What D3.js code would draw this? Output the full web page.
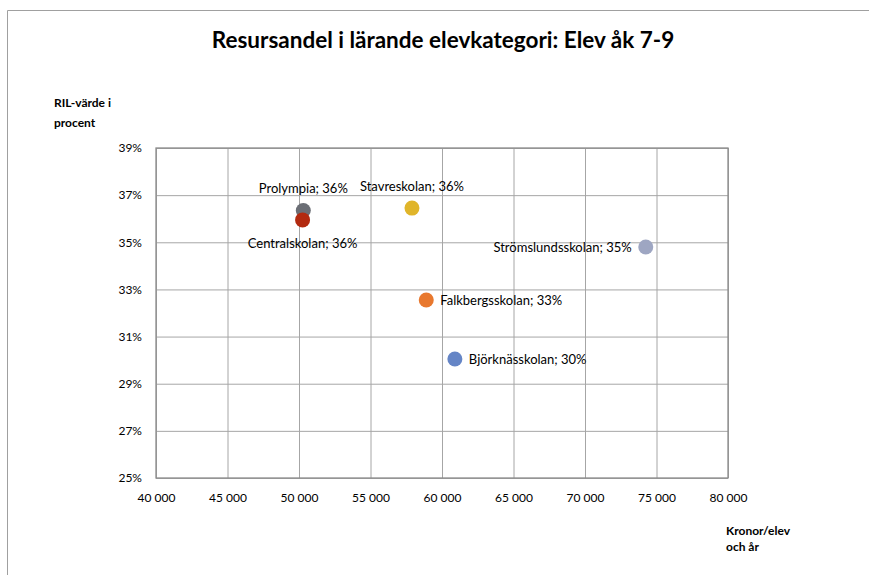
<!DOCTYPE html>
<html>
<head>
<meta charset="utf-8">
<script src="https://cdn.jsdelivr.net/npm/d3@7"></script>
<style>
  body { margin: 0; background: #fff; }
  svg text { font-family: Lato, "Open Sans", sans-serif; fill: #000; }
</style>
</head>
<body>
<div id="chart"></div>
<script>
// Data
var schools = ["Prolympia", "Centralskolan", "Stavreskolan", "Strömslundsskolan", "Falkbergsskolan", "Björknässkolan"];
var kronor = [50300, 50250, 57900, 74250, 58900, 60900];
var ril = [36.35, 35.95, 36.45, 34.8, 32.55, 30.05];
var colors = ["#6b6e75", "#b22a10", "#e0b52a", "#9ea6c2", "#e8782e", "#6585c6"];
var labelSide = ["top", "bottom", "top", "left", "right", "right"];
var xTicks = [40000, 45000, 50000, 55000, 60000, 65000, 70000, 75000, 80000];
var yTicks = [25, 27, 29, 31, 33, 35, 37, 39];

var W = 869, H = 575;
var margin = { top: 148, right: 141, bottom: 97, left: 156 };
var width = W - margin.left - margin.right;
var height = H - margin.top - margin.bottom;

var svg = d3.select("#chart").append("svg")
    .attr("width", W)
    .attr("height", H);

// outer frame of the chart object (only top and left visible)
svg.append("path")
    .attr("d", "M7.5," + H + " V10.5 H" + W)
    .attr("fill", "none")
    .attr("stroke", "#a0a0a0")
    .attr("stroke-width", 1);

svg.append("text")
    .attr("x", 443)
    .attr("y", 48)
    .attr("text-anchor", "middle")
    .style("font-size", "22.5px")
    .style("font-weight", "bold")
    .text("Resursandel i lärande elevkategori: Elev åk 7-9");

var g = svg.append("g")
    .attr("transform", "translate(" + margin.left + "," + margin.top + ")");

var x = d3.scaleLinear().domain([40000, 80000]).range([0, width]);
var y = d3.scaleLinear().domain([25, 39]).range([height, 0]);

// gridlines via axes
g.append("g")
    .attr("class", "grid")
    .call(d3.axisBottom(x).tickValues(xTicks).tickSize(height).tickFormat(""))
    .call(function (s) { s.select(".domain").remove(); })
    .selectAll("line").attr("stroke", "#a6a6a6");

g.append("g")
    .attr("class", "grid")
    .call(d3.axisLeft(y).tickValues(yTicks).tickSize(-width).tickFormat(""))
    .call(function (s) { s.select(".domain").remove(); })
    .selectAll("line").attr("stroke", "#a6a6a6");

g.append("rect")
    .attr("x", 0).attr("y", 0)
    .attr("width", width).attr("height", height)
    .attr("fill", "none")
    .attr("stroke", "#8c8c8c")
    .attr("stroke-width", 1.3);

// tick labels
var fmtX = function (d) { return d3.format(",")(d).replace(",", " "); };
var xAxis = g.append("g")
    .attr("transform", "translate(0," + height + ")")
    .call(d3.axisBottom(x).tickValues(xTicks).tickSize(0).tickPadding(15).tickFormat(fmtX));
xAxis.select(".domain").remove();
xAxis.selectAll("text").style("font-size", "12px").style("font-family", "Lato, sans-serif");

var yAxis = g.append("g")
    .call(d3.axisLeft(y).tickValues(yTicks).tickSize(0).tickPadding(14).tickFormat(function (d) { return d + "%"; }));
yAxis.select(".domain").remove();
yAxis.selectAll("text").style("font-size", "12px").style("font-family", "Lato, sans-serif");

// axis titles
var yTitle = svg.append("text")
    .attr("x", 54)
    .attr("y", 107)
    .style("font-size", "12px")
    .style("font-weight", "bold");
yTitle.append("tspan").attr("x", 54).text("RIL-värde i");
yTitle.append("tspan").attr("x", 54).attr("dy", 20).text("procent");

var xTitle = svg.append("text")
    .attr("x", 726)
    .attr("y", 535)
    .style("font-size", "12px")
    .style("font-weight", "bold");
xTitle.append("tspan").attr("x", 726).text("Kronor/elev");
xTitle.append("tspan").attr("x", 726).attr("dy", 16).text("och år");

// points
var idx = d3.range(schools.length);
g.selectAll("circle.pt")
    .data(idx)
    .enter().append("circle")
    .attr("class", "pt")
    .attr("cx", function (i) { return x(kronor[i]); })
    .attr("cy", function (i) { return y(ril[i]); })
    .attr("r", 7.5)
    .attr("fill", function (i) { return colors[i]; });

// labels
g.selectAll("text.lbl")
    .data(idx)
    .enter().append("text")
    .attr("class", "lbl")
    .style("font-size", "13px")
    .attr("x", function (i) {
        var cx = x(kronor[i]);
        if (labelSide[i] === "left") return cx - 14;
        if (labelSide[i] === "right") return cx + 14;
        return cx;
    })
    .attr("y", function (i) {
        var cy = y(ril[i]);
        if (labelSide[i] === "top") return cy - 17;
        if (labelSide[i] === "bottom") return cy + 28;
        return cy + 5;
    })
    .attr("text-anchor", function (i) {
        if (labelSide[i] === "left") return "end";
        if (labelSide[i] === "right") return "start";
        return "middle";
    })
    .text(function (i) { return schools[i] + "; " + Math.round(ril[i]) + "%"; });
</script>
</body>
</html>
